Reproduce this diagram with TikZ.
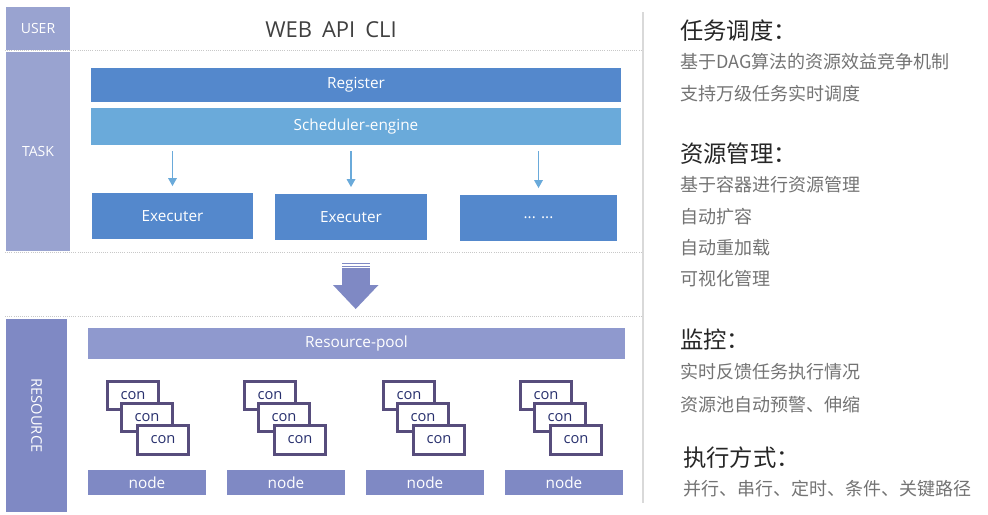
\documentclass[tikz,border=0pt]{standalone}
\usepackage{fontspec}
\setmainfont{Open Sans}
\newfontfamily\cjk{Noto Sans CJK SC}
\usepackage{xcolor}
\usepackage{tikz}
\usetikzlibrary{arrows.meta, positioning, calc}

\definecolor{layerlav}{RGB}{153,163,208}
\definecolor{reslav}{RGB}{127,137,196}
\definecolor{poollav}{RGB}{143,153,206}
\definecolor{regblue}{RGB}{84,136,204}
\definecolor{schedblue}{RGB}{106,170,218}
\definecolor{conline}{RGB}{87,77,124}
\definecolor{contxt}{RGB}{40,48,110}
\definecolor{sepgray}{RGB}{200,200,200}
\definecolor{titlegray}{RGB}{38,38,38}
\definecolor{itemgray}{RGB}{115,115,115}

\begin{document}
\begin{tikzpicture}[x=0.75pt, y=-0.75pt, font=\fontsize{11.5}{13}\selectfont,
   sz/.style 2 args={minimum width=#1*0.75pt, minimum height=#2*0.75pt},
   box/.style={inner sep=0pt, text=white},
   layer/.style={box, fill=layerlav, font=\fontsize{10.5}{12}\selectfont},
   regbox/.style={box, fill=regblue},
   schedbox/.style={box, fill=schedblue},
   poolbox/.style={box, fill=poollav},
   nodebar/.style={box, fill=reslav, sz={118}{25}},
   conbox/.style={draw=conline, line width=2.4pt, fill=white, text=contxt, inner sep=0pt,
     font=\fontsize{11}{13}\selectfont},
   tarrow/.style={schedblue, line width=0.9pt, -{Triangle[length=6pt,width=6.5pt]},
     shorten <=4.5pt, shorten >=5pt},
   sepline/.style={sepgray, densely dotted, line width=0.6pt},
   headline/.style={anchor=west, inner sep=0pt, text=titlegray, font=\cjk\fontsize{17.5}{19}\selectfont},
   itemline/.style={anchor=west, inner sep=0pt, text=itemgray, font=\cjk\fontsize{13.5}{15}\selectfont}]
  \useasboundingbox (0,0) rectangle (988,514);

  % layers on the left
  \node[layer, sz={64}{43}] (user) at (38,28.5) {USER};
  \node[layer, sz={64}{199}] (task) at (38,151.5) {TASK};
  \node[layer, fill=reslav, rotate=-90, sz={193}{61}, font=\fontsize{11}{12}\selectfont]
    (res) at (36.5,415.5) {RESOURCE};

  % separators
  \draw[sepline] (5,50.5) -- (643,50.5);
  \draw[sepline] (5,252) -- (643,252);
  \draw[sepline] (5,316.5) -- (643,316.5);
  \draw[gray!30, line width=1.5pt] (643,12) -- (643,503);

  \node[text=darkgray, font=\fontsize{16.5}{18}\selectfont] (ui) at (331,30)
    {WEB\hspace{0.45em}API\hspace{0.45em}CLI};

  % task layer
  \node[regbox, sz={530}{34}] (reg) at (356,85) {Register};
  \node[schedbox, sz={530}{37}] (sched) at (356,126.5) {Scheduler-engine};
  \node[regbox, sz={161}{46}] (exec1) at (172.5,216) {Executer};
  \node[regbox, sz={152}{46}] (exec2) at (351,217) {Executer};
  \node[regbox, sz={157}{46}] (exec3) at (538.5,218) {... ...};
  \foreach \i in {1,2,3}
    \draw[tarrow] (exec\i.north |- sched.south) -- (exec\i.north);

  % big arrow down
  \fill[reslav] (342,263) rectangle (370,264.3);
  \fill[reslav] (342,265.5) rectangle (370,266.8);
  \fill[reslav] (342,268) rectangle (370,285.5);
  \fill[reslav] (333,285) -- (378.5,285) -- (355.7,309) -- cycle;

  % resource layer
  \node[poolbox, sz={537}{31}] (pool) at (356.5,343.5) {Resource-pool};
  \foreach \i/\cx in {1/106,2/243,3/382,4/519} {
    \node[conbox, sz={51.6}{28.1}] (con\i a) at (\cx+27,395.3) {con};
    \node[conbox, sz={51.6}{28.1}] (con\i b) at (\cx+41,417.3) {con};
    \node[conbox, sz={51.6}{29.1}] (con\i c) at (\cx+57,439.8) {con};
  }
  \foreach \i in {1,...,4}
    \node[nodebar] (node\i) at (139*\i+8,482.5) {node};

  % notes on the right
  \node[headline] (h1) at (680,31) {任务调度：};
  \node[itemline] (h1a) at (680,62) {基于DAG算法的资源效益竞争机制};
  \node[itemline] (h1b) at (680,94) {支持万级任务实时调度};
  \node[headline] (h2) at (680,154) {资源管理：};
  \node[itemline] (h2a) at (680,185) {基于容器进行资源管理};
  \node[itemline] (h2b) at (680,217) {自动扩容};
  \node[itemline] (h2c) at (680,248) {自动重加载};
  \node[itemline] (h2d) at (680,279) {可视化管理};
  \node[headline] (h3) at (680,340) {监控：};
  \node[itemline] (h3a) at (680,372) {实时反馈任务执行情况};
  \node[itemline] (h3b) at (680,405) {资源池自动预警、伸缩};
  \node[headline] (h4) at (683,458) {执行方式：};
  \node[itemline] (h4a) at (683,489) {并行、串行、定时、条件、关键路径};
\end{tikzpicture}
\end{document}
